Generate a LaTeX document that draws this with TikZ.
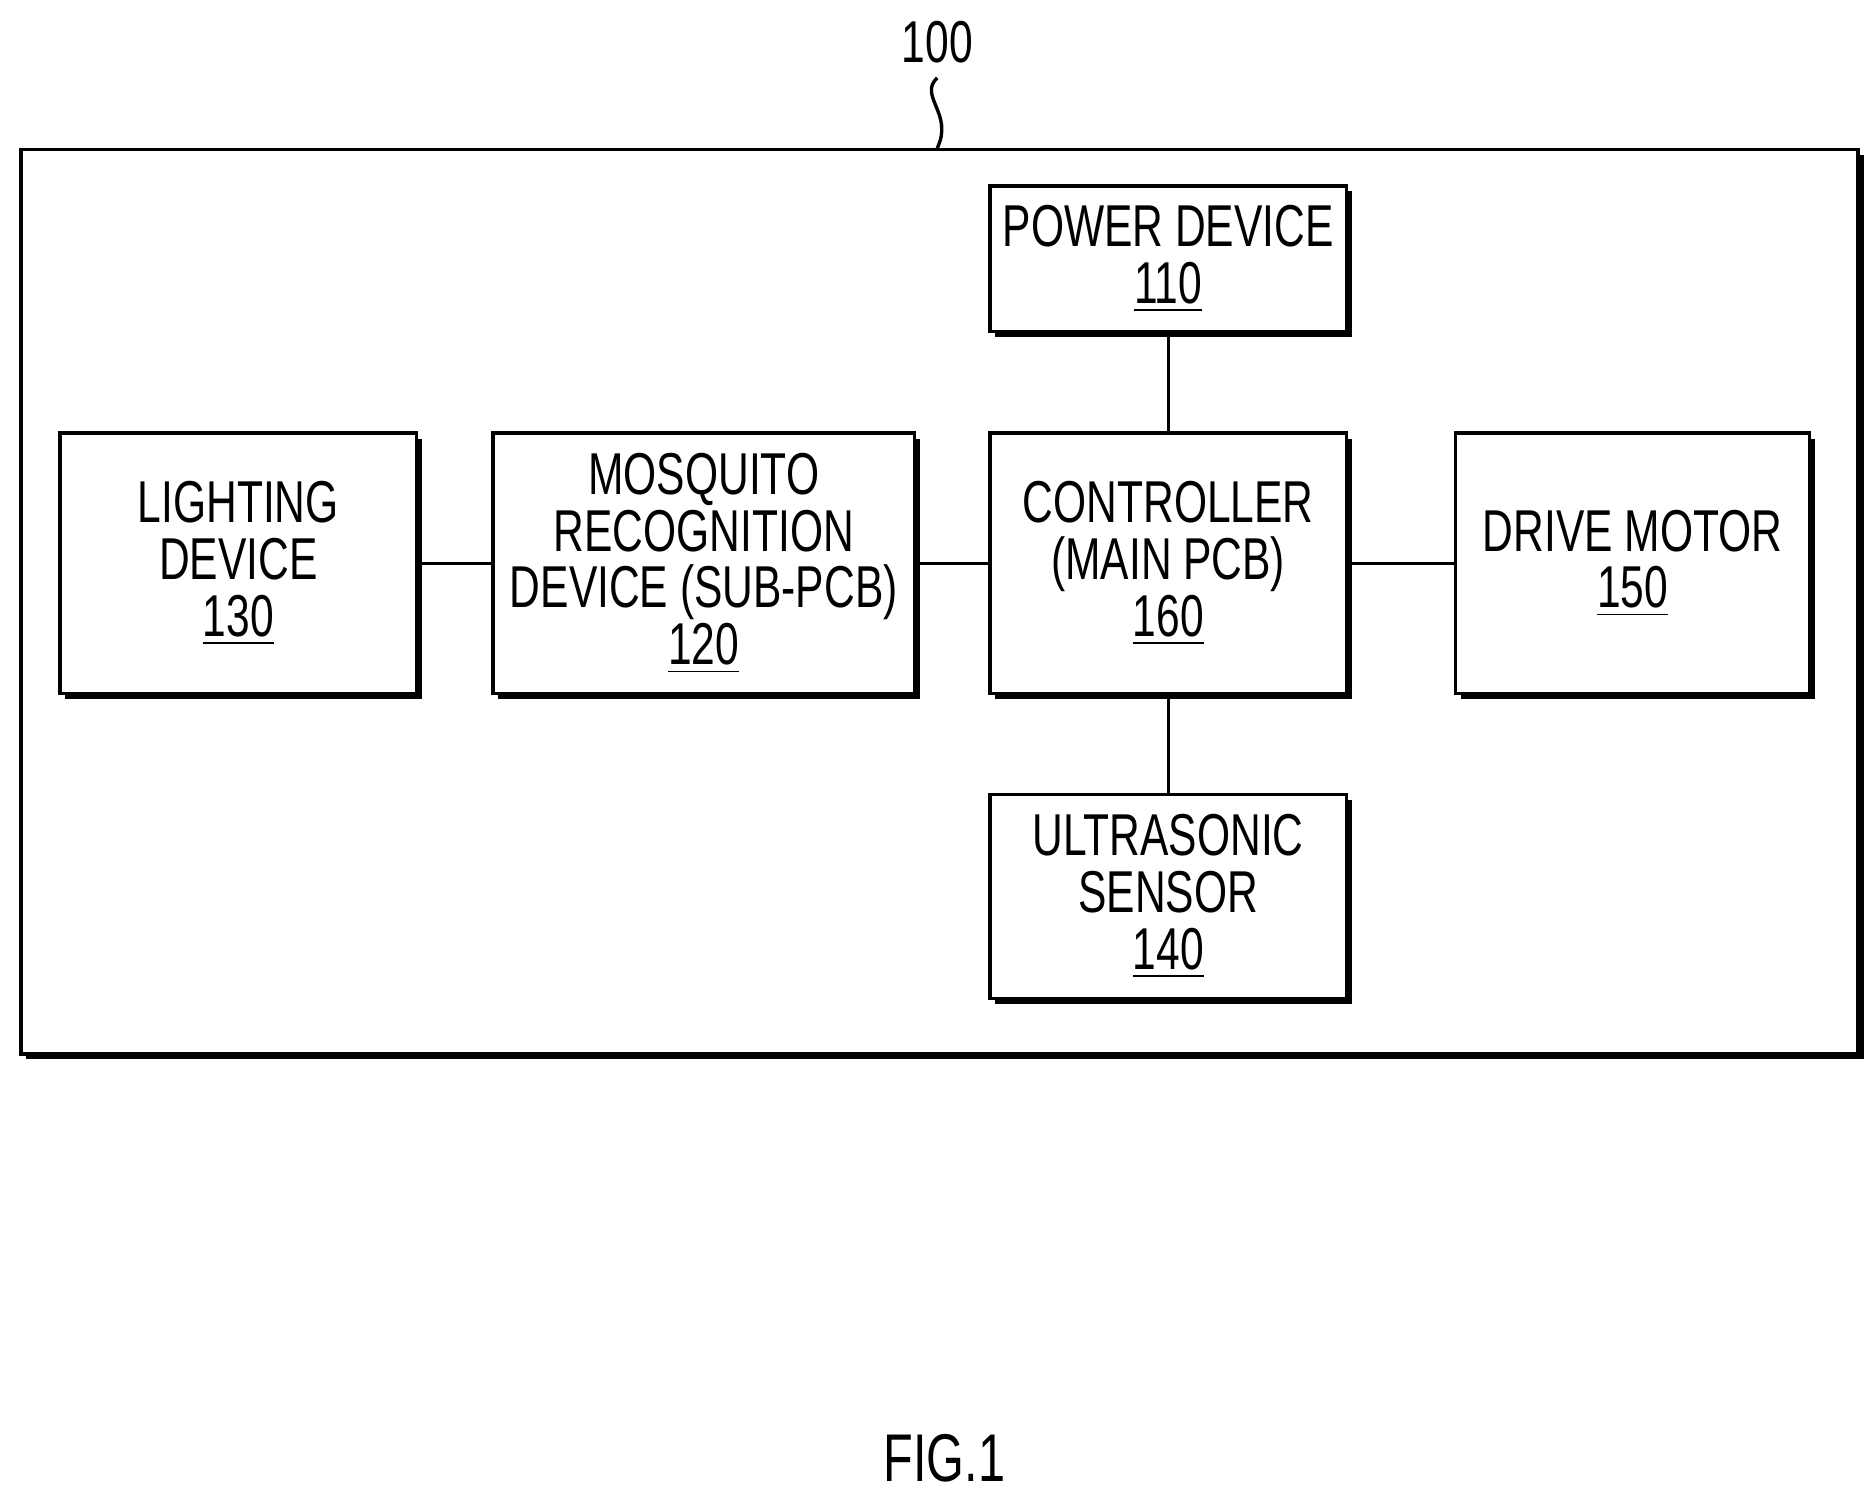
\documentclass[tikz,border=0pt]{standalone}
\usepackage{fontspec}
\setmainfont{Liberation Sans}[FakeStretch=0.72]
\usetikzlibrary{positioning, calc, shadows}
\begin{document}
\begin{tikzpicture}[x=0.01cm,y=-0.01cm]
	\tikzstyle{blk}=[draw=black,thick,fill=white,align=center,inner sep=0pt,font=\fontsize{14}{13.5}\selectfont,
		drop shadow={shadow xshift=0.045cm,shadow yshift=-0.045cm,fill=black,opacity=1}]
	\tikzstyle{link}=[thick]
	\newcommand{\ul}[1]{\underline{\smash{#1}\vphantom{0}}}
	\useasboundingbox (0,0) rectangle (1560,1243);
	% outer frame
	\node[blk,minimum width=15.3cm,minimum height=7.53cm] (frame) at (783,501.5) {};
	\node[font=\fontsize{14}{16}\selectfont] (label100) at (781,35) {100};
	\draw[thick] (label100.south) .. controls (765,80) and (795,95) .. (frame.north -| label100.south);

	% blocks
	\node[blk,minimum width=2.97cm,minimum height=1.21cm] (power) at (973.5,215.5) {POWER DEVICE\\\ul{110}};
	\node[blk,minimum width=2.97cm,minimum height=2.17cm] (light) at (198.5,469.5) {LIGHTING\\DEVICE\\\ul{130}};
	\node[blk,minimum width=3.51cm,minimum height=2.17cm] (mosq) at (586.5,469.5) {MOSQUITO\\RECOGNITION\\DEVICE (SUB-PCB)\\\ul{120}};
	\node[blk,minimum width=2.97cm,minimum height=2.17cm] (ctrl) at (973.5,469.5) {CONTROLLER\\(MAIN PCB)\\\ul{160}};
	\node[blk,minimum width=2.95cm,minimum height=2.17cm] (motor) at (1360.5,469.5) {DRIVE MOTOR\\\ul{150}};
	\node[blk,minimum width=2.97cm,minimum height=1.70cm] (sonic) at (973.5,747) {ULTRASONIC\\SENSOR\\\ul{140}};

	% connections
	\draw[link] (light) -- (mosq);
	\draw[link] (mosq) -- (ctrl);
	\draw[link] (ctrl) -- (motor);
	\draw[link] (ctrl) -- (power);
	\draw[link] (ctrl) -- (sonic);

	\node[font=\fontsize{16}{18}\selectfont] (fig) at (787,1215) {FIG.1};
\end{tikzpicture}
\end{document}
